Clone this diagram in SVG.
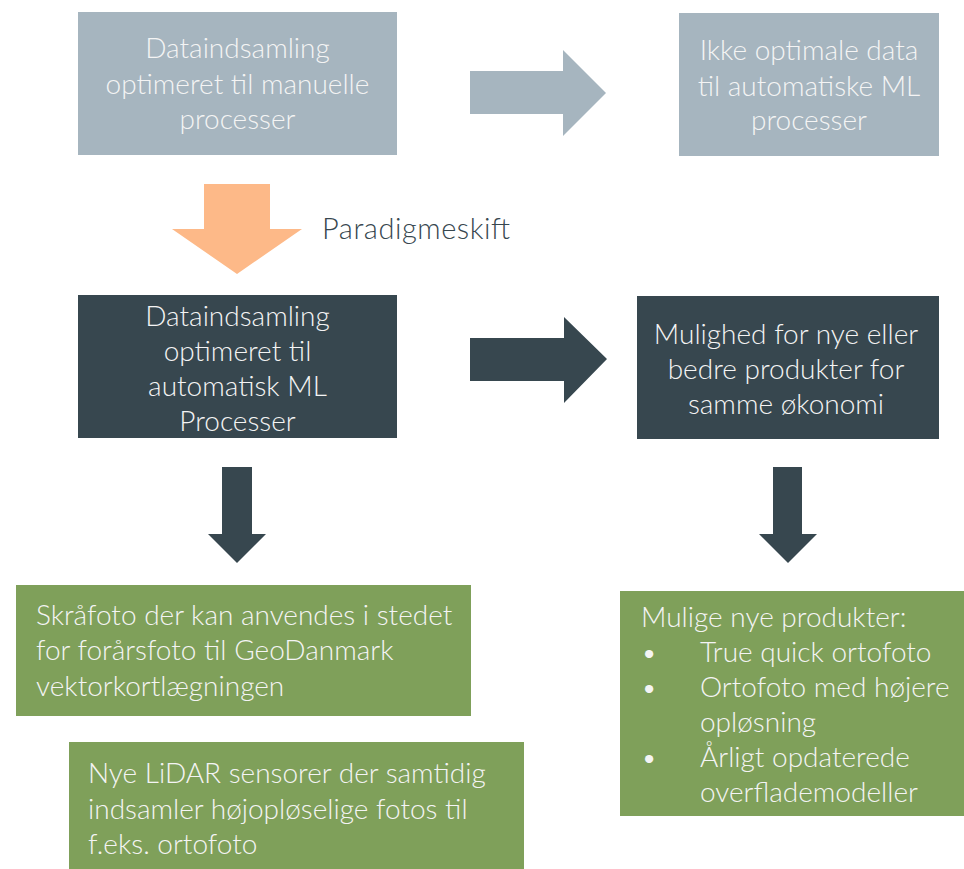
<svg xmlns="http://www.w3.org/2000/svg" width="964" height="869" viewBox="0 0 964 869">
  <style>
    .t { font-family: Lato, "Open Sans", "Liberation Sans", sans-serif; font-weight: 300; font-size: 28px; fill: #F4F4F4; }
    .mid { text-anchor: middle; }
    .lbl { font-family: Lato, "Open Sans", "Liberation Sans", sans-serif; font-weight: 300; font-size: 29px; fill: #37474F; }
    .grey { fill: #A6B5BF; }
    .dark { fill: #37474F; }
    .green { fill: #7FA05A; }
    .orange { fill: #FDB988; }
  </style>
  <rect width="964" height="869" fill="#FFFFFF"/>

  <!-- block arrows between the boxes -->
  <g id="connectors">
    <polygon class="grey" points="470,71 563,71 563,50 606,93 563,136 563,114 470,114"/>
    <polygon class="orange" points="204,184 270,184 270,229 302,229 237,274 172,229 204,229"/>
    <polygon class="dark" points="470,338 564,338 564,317 607,359 564,403 564,381 470,381"/>
    <polygon class="dark" points="222,467 252,467 252,534 266,534 237,563 208,534 222,534"/>
    <polygon class="dark" points="773,467 802,467 802,534 817,534 788,563 759,534 773,534"/>
  </g>

  <g id="label-paradigmeskift">
    <text class="lbl" x="322" y="239" textLength="188" lengthAdjust="spacing">Paradigmeskift</text>
  </g>

  <g id="manual-collection">
    <rect class="grey" x="78" y="12" width="319" height="143"/>
    <text class="t mid" x="237.5" y="58">Dataindsamling</text>
    <text class="t mid" x="237.5" y="94">optimeret til manuelle</text>
    <text class="t mid" x="237.5" y="129">processer</text>
  </g>

  <g id="not-optimal">
    <rect class="grey" x="679" y="13" width="260" height="143"/>
    <text class="t mid" x="809" y="60">Ikke optimale data</text>
    <text class="t mid" x="809" y="96">til automatiske ML</text>
    <text class="t mid" x="809" y="130">processer</text>
  </g>

  <g id="ml-collection">
    <rect class="dark" x="78" y="295" width="319" height="143"/>
    <text class="t mid" x="237.5" y="326">Dataindsamling</text>
    <text class="t mid" x="237.5" y="361">optimeret til</text>
    <text class="t mid" x="237.5" y="396">automatisk ML</text>
    <text class="t mid" x="237.5" y="431">Processer</text>
  </g>

  <g id="new-products">
    <rect class="dark" x="637" y="296" width="302" height="143"/>
    <text class="t mid" x="786" y="344">Mulighed for nye eller</text>
    <text class="t mid" x="786" y="379">bedre produkter for</text>
    <text class="t mid" x="786" y="414">samme økonomi</text>
  </g>

  <g id="oblique-photo">
    <rect class="green" x="16" y="585" width="455" height="131"/>
    <text class="t" x="36" y="625">Skråfoto der kan anvendes i stedet</text>
    <text class="t" x="36" y="660">for forårsfoto til GeoDanmark</text>
    <text class="t" x="36" y="696">vektorkortlægningen</text>
  </g>

  <g id="lidar-sensors">
    <rect class="green" x="69" y="742" width="455" height="127"/>
    <text class="t" x="88" y="783">Nye LiDAR sensorer der samtidig</text>
    <text class="t" x="88" y="819">indsamler højopløselige fotos til</text>
    <text class="t" x="88" y="854">f.eks. ortofoto</text>
  </g>

  <g id="possible-products">
    <rect class="green" x="620" y="591" width="344" height="225"/>
    <text class="t" x="641" y="627">Mulige nye produkter:</text>
    <text class="t" x="641" y="662">•</text>
    <text class="t" x="700" y="662">True quick ortofoto</text>
    <text class="t" x="641" y="697">•</text>
    <text class="t" x="700" y="697">Ortofoto med højere</text>
    <text class="t" x="700" y="732">opløsning</text>
    <text class="t" x="641" y="767">•</text>
    <text class="t" x="700" y="767">Årligt opdaterede</text>
    <text class="t" x="700" y="802">overflademodeller</text>
  </g>
</svg>
